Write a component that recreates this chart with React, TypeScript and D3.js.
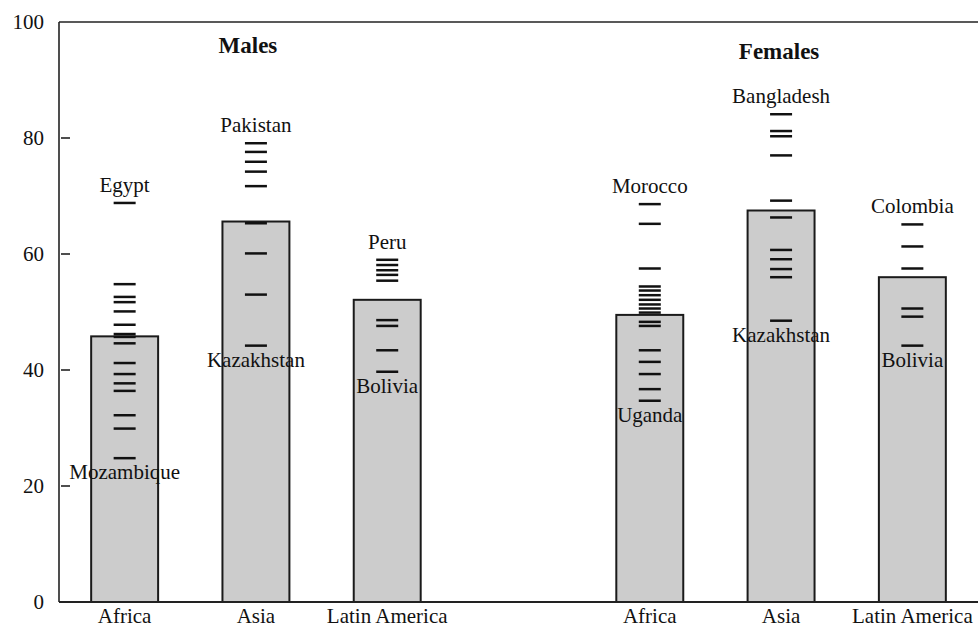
import React from "react";
import * as d3 from "d3";

const groups = ["Males", "Females"];
const regions = ["Africa", "Asia", "Latin America"];
const yTicks = [0, 20, 40, 60, 80, 100];

const maleBars = [45.8, 65.6, 52.1];
const femaleBars = [49.5, 67.5, 56.0];

const maleAfrica = [68.8, 54.8, 52.6, 51.7, 50.1, 47.8, 46.2, 45.7, 44.6, 41.2, 39.3, 37.7, 36.4, 32.2, 29.9, 24.8];
const maleAsia = [79.1, 77.6, 75.9, 74.2, 71.7, 65.3, 60.1, 53.0, 44.2];
const maleLatAm = [59.0, 58.1, 57.2, 56.4, 55.4, 48.6, 47.6, 43.4, 39.7];
const femaleAfrica = [68.6, 65.2, 57.5, 54.4, 53.7, 52.9, 52.1, 51.3, 50.6, 49.9, 48.3, 47.6, 43.4, 41.4, 39.3, 36.7, 34.7];
const femaleAsia = [84.1, 81.2, 80.3, 77.0, 69.2, 66.3, 60.7, 59.1, 57.4, 56.0, 48.5];
const femaleLatAm = [65.1, 61.3, 57.5, 50.6, 49.2, 44.2];

const maleTopLabels = ["Egypt", "Pakistan", "Peru"];
const maleBottomLabels = ["Mozambique", "Kazakhstan", "Bolivia"];
const femaleTopLabels = ["Morocco", "Bangladesh", "Colombia"];
const femaleBottomLabels = ["Uganda", "Kazakhstan", "Bolivia"];

const W = 978;
const H = 633;
const FONT = "'Liberation Serif', 'Times New Roman', serif";

type Bar = { key: string; region: string; group: string; value: number; dashes: number[]; top: string; bottom: string };

const bars: Bar[] = [
  ...regions.map((r, i) => ({ key: "M-" + r, region: r, group: groups[0], value: maleBars[i], dashes: [maleAfrica, maleAsia, maleLatAm][i], top: maleTopLabels[i], bottom: maleBottomLabels[i] })),
  ...regions.map((r, i) => ({ key: "F-" + r, region: r, group: groups[1], value: femaleBars[i], dashes: [femaleAfrica, femaleAsia, femaleLatAm][i], top: femaleTopLabels[i], bottom: femaleBottomLabels[i] })),
];

const slots = [...bars.slice(0, 3).map((b) => b.key), "gap", ...bars.slice(3).map((b) => b.key)];

export default function App() {
  const left = 59;
  const right = 978;
  const y = d3.scaleLinear().domain([0, 100]).range([602, 22]);
  const x = d3.scaleBand<string>().domain(slots).range([left, right]).paddingInner(0.49).paddingOuter(0.245);
  const bw = x.bandwidth();
  const dashW = 22;

  return (
    <svg width={W} height={H} style={{ position: "absolute", left: 0, top: 0, background: "#fff" }} fontFamily={FONT}>
      <rect x={0} y={0} width={W} height={H} fill="#fff" />
      {bars.map((b) => {
        const bx = x(b.key)!;
        const cx = bx + bw / 2;
        const maxV = d3.max(b.dashes)!;
        const minV = d3.min(b.dashes)!;
        return (
          <g key={b.key}>
            <rect x={bx} y={y(b.value)} width={bw} height={y(0) - y(b.value)} fill="#cccccc" stroke="#1a1a1a" strokeWidth={2} />
            {b.dashes.map((v, i) => (
              <line key={i} x1={cx - dashW / 2} x2={cx + dashW / 2} y1={y(v)} y2={y(v)} stroke="#111" strokeWidth={2.5} />
            ))}
            <text x={cx} y={y(maxV) - 11} textAnchor="middle" fontSize={21} fill="#111">{b.top}</text>
            <text x={cx} y={y(minV) + 21} textAnchor="middle" fontSize={21} fill="#111">{b.bottom}</text>
            <text x={cx} y={623} textAnchor="middle" fontSize={21} fill="#111">{b.region}</text>
          </g>
        );
      })}
      <line x1={left} x2={right} y1={y(100)} y2={y(100)} stroke="#222" strokeWidth={1.6} />
      <line x1={left} x2={left} y1={y(100)} y2={y(0)} stroke="#222" strokeWidth={1.6} />
      <line x1={left} x2={right} y1={y(0)} y2={y(0)} stroke="#222" strokeWidth={1.8} />
      {yTicks.map((t) => (
        <g key={t}>
          {t > 0 && t < 100 && <line x1={left + 2} x2={left + 11} y1={y(t)} y2={y(t)} stroke="#222" strokeWidth={1.6} />}
          <text x={left - 15} y={y(t) + 7} textAnchor="end" fontSize={21} fill="#111">{t}</text>
        </g>
      ))}
      {groups.map((g, i) => {
        const k = bars[i * 3 + 1].key;
        const cx = x(k)! + bw / 2;
        return (
          <text key={g} x={cx + (i === 0 ? -8 : -2)} y={i === 0 ? 53 : 59} textAnchor="middle" fontSize={23} fontWeight="bold" fill="#111">{g}</text>
        );
      })}
    </svg>
  );
}
